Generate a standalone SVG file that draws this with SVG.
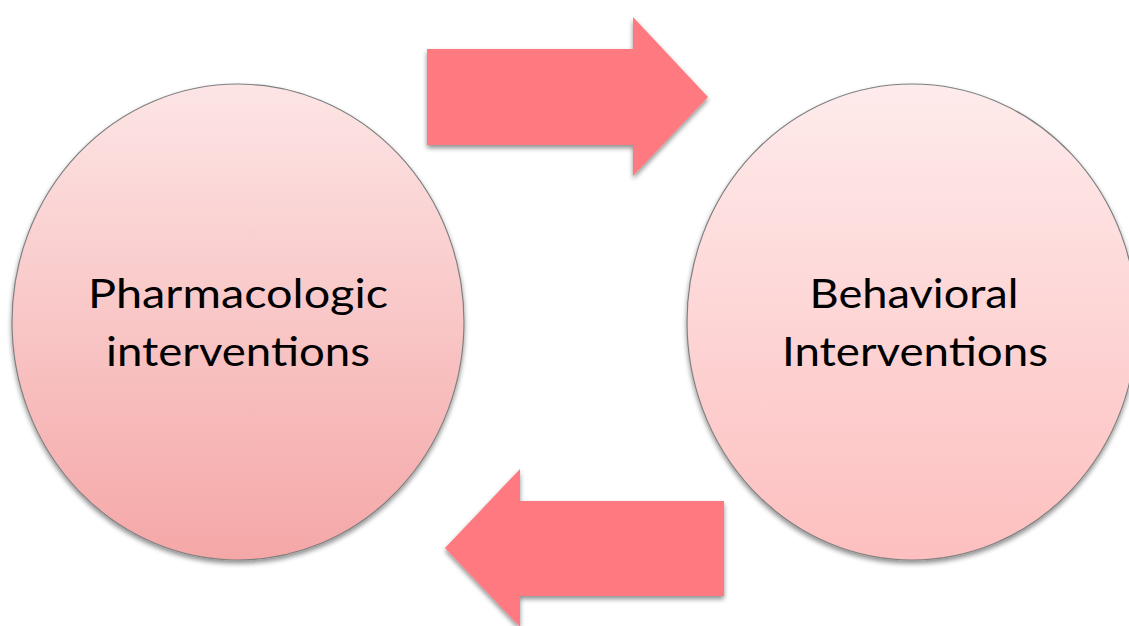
<svg xmlns="http://www.w3.org/2000/svg" width="1129" height="626" viewBox="0 0 1129 626">
  <defs>
    <linearGradient id="gLeft" x1="0" y1="0" x2="0" y2="1">
      <stop offset="0" stop-color="#fde5e5"/>
      <stop offset="1" stop-color="#f5a7a7"/>
    </linearGradient>
    <linearGradient id="gRight" x1="0" y1="0" x2="0" y2="1">
      <stop offset="0" stop-color="#feebeb"/>
      <stop offset="1" stop-color="#fdbfbf"/>
    </linearGradient>
    <filter id="shadow" x="-10%" y="-10%" width="120%" height="125%">
      <feGaussianBlur in="SourceAlpha" stdDeviation="2.5"/>
      <feOffset dx="0" dy="3" result="b"/>
      <feComponentTransfer><feFuncA type="linear" slope="0.45"/></feComponentTransfer>
      <feMerge><feMergeNode/><feMergeNode in="SourceGraphic"/></feMerge>
    </filter>
  </defs>
  <style>
    .circle { stroke: #808080; stroke-width: 1.2; filter: url(#shadow); }
    .arrow { fill: #ff7a80; filter: url(#shadow); }
    .label { font-family: Lato, "Open Sans", "Liberation Sans", sans-serif; font-size: 40px; fill: #000; text-anchor: middle; }
  </style>
  <rect width="1129" height="626" fill="#ffffff"/>
  <g id="connectors">
    <path class="arrow" d="M427,49 L633,49 L633,17 L708,97 L633,176 L633,145 L427,145 Z"/>
    <path class="arrow" d="M724,501 L520,501 L520,469 L445,548 L520,627 L520,596 L724,596 Z"/>
  </g>
  <g id="node-pharmacologic">
    <ellipse class="circle" cx="238" cy="322" rx="226" ry="238" fill="url(#gLeft)"/>
    <text class="label" x="238" y="308" textLength="300" lengthAdjust="spacingAndGlyphs">Pharmacologic</text>
    <text class="label" x="238" y="366" textLength="264" lengthAdjust="spacingAndGlyphs">interventions</text>
  </g>
  <g id="node-behavioral">
    <ellipse class="circle" cx="912" cy="322" rx="225" ry="238" fill="url(#gRight)"/>
    <text class="label" x="914" y="308" textLength="209" lengthAdjust="spacingAndGlyphs">Behavioral</text>
    <text class="label" x="915" y="366" textLength="266" lengthAdjust="spacingAndGlyphs">Interventions</text>
  </g>
</svg>
